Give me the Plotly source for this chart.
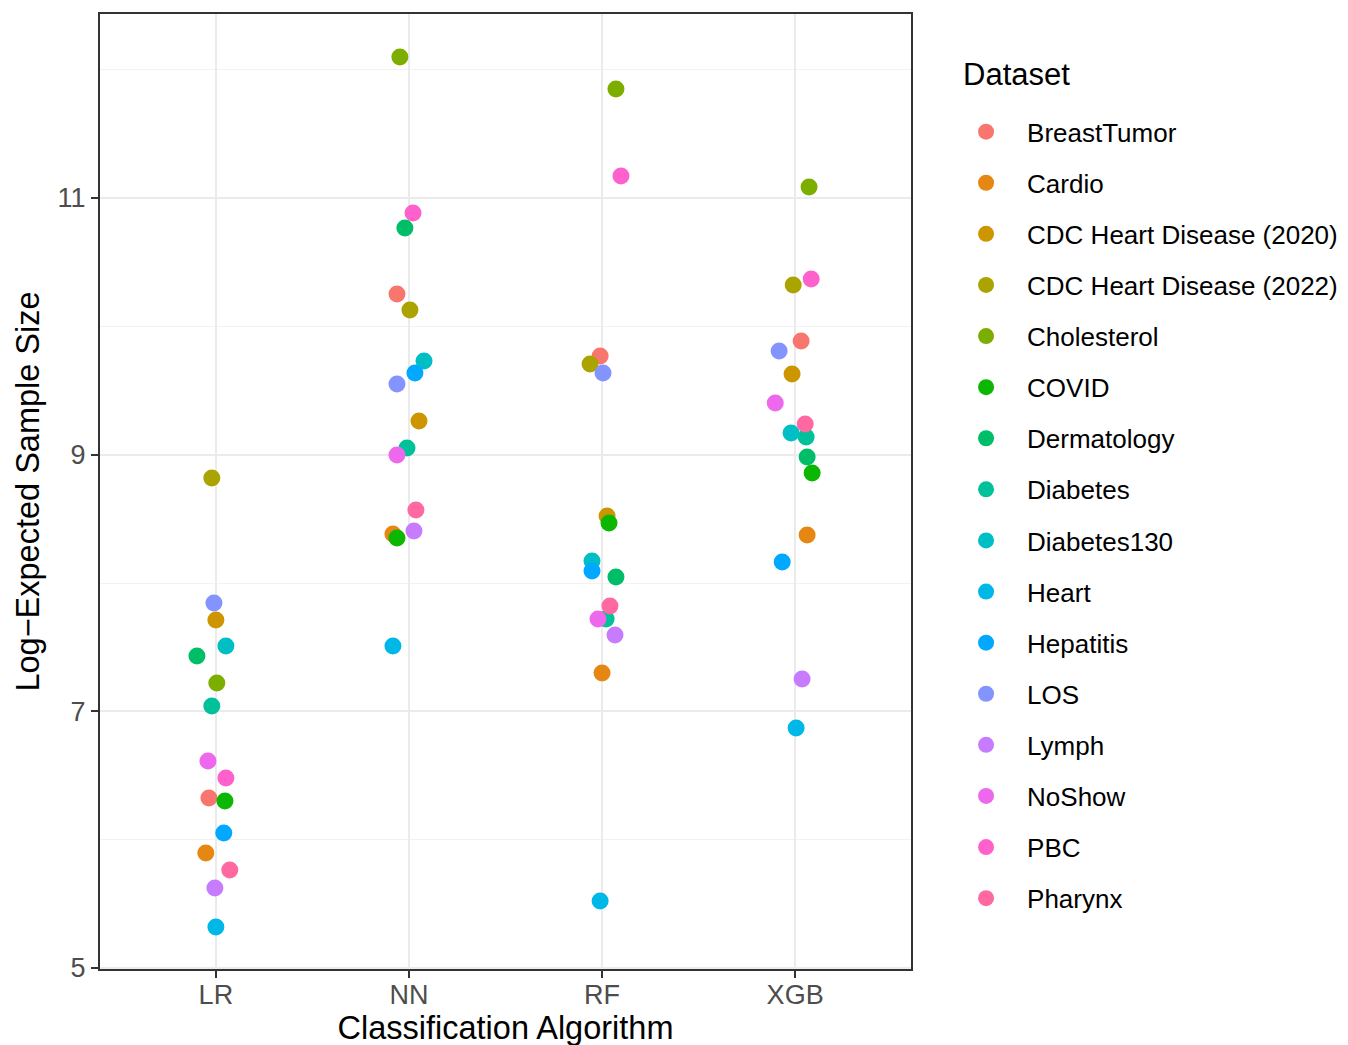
import plotly.graph_objects as go

datasets = ["BreastTumor", "Cardio", "CDC Heart Disease (2020)", "CDC Heart Disease (2022)",
            "Cholesterol", "COVID", "Dermatology", "Diabetes", "Diabetes130", "Heart",
            "Hepatitis", "LOS", "Lymph", "NoShow", "PBC", "Pharynx"]
colors = ["#F8766D", "#E68613", "#CD9600", "#ABA300", "#7CAE00", "#0CB702", "#00BE67", "#00C19A",
          "#00BFC4", "#00B8E7", "#00A9FF", "#8494FF", "#C77CFF", "#ED68ED", "#FF61CC", "#FF68A1"]
algorithms = ["LR", "NN", "RF", "XGB"]

# Log-expected sample size per dataset (same order as datasets)
lr_vals = [6.325, 5.896, 7.712, 8.818, 7.221, 6.301, 7.431, 7.042, 7.509, 5.319,
           6.052, 7.844, 5.623, 6.613, 6.481, 5.764]
nn_vals = [10.252, 8.382, 9.262, 10.127, 12.099, 8.351, 10.766, 9.052, 9.730, 7.509,
           9.636, 9.551, 8.405, 8.997, 10.883, 8.569]
rf_vals = [9.769, 7.299, 8.522, 9.707, 11.849, 8.468, 8.047, 7.720, 8.172, 5.522,
           8.094, 9.636, 7.595, 7.720, 11.172, 7.821]
xgb_vals = [9.886, 8.374, 9.629, 10.322, 11.086, 8.857, 8.982, 9.138, 9.169, 6.870,
            8.164, 9.808, 7.252, 9.403, 10.369, 9.239]

# horizontal jitter (category units) as drawn in the original
lr_jit = [-0.036, -0.052, 0.0, -0.021, 0.005, 0.047, -0.098, -0.021, 0.052, 0.0,
          0.041, -0.010, -0.005, -0.041, 0.052, 0.072]
nn_jit = [-0.062, -0.083, 0.052, 0.005, -0.047, -0.062, -0.021, -0.010, 0.078, -0.083,
          0.031, -0.062, 0.026, -0.062, 0.021, 0.036]
rf_jit = [-0.010, 0.0, 0.026, -0.062, 0.072, 0.036, 0.072, 0.021, -0.052, -0.010,
          -0.052, 0.005, 0.067, -0.021, 0.098, 0.041]
xgb_jit = [0.031, 0.062, -0.016, -0.010, 0.072, 0.088, 0.062, 0.057, -0.021, 0.005,
           -0.067, -0.083, 0.036, -0.103, 0.083, 0.052]

vals = [lr_vals, nn_vals, rf_vals, xgb_vals]
jits = [lr_jit, nn_jit, rf_jit, xgb_jit]

FONT = "Liberation Sans, Arial, sans-serif"

fig = go.Figure()
for i, name in enumerate(datasets):
    xs = [k + 1 + jits[k][i] for k in range(4)]
    ys = [vals[k][i] for k in range(4)]
    fig.add_trace(go.Scatter(
        x=xs, y=ys, mode="markers", name=name, legendgroup=name,
        marker=dict(color=colors[i], size=17, line=dict(width=0)),
    ))

fig.add_annotation(
    text="Dataset", xref="paper", yref="paper", x=1.0617, y=0.937,
    xanchor="left", yanchor="middle", showarrow=False,
    font=dict(size=31, color="black", family=FONT),
)

fig.update_layout(
    width=1348, height=1045,
    paper_bgcolor="white", plot_bgcolor="white",
    margin=dict(l=92, r=445, t=6, b=84),
    font=dict(family=FONT, color="black"),
    legend=dict(
        font=dict(size=26, color="black"),
        x=1.042, xanchor="left", y=0.9013, yanchor="top",
        tracegroupgap=14.3, itemsizing="trace", itemwidth=72,
        bgcolor="rgba(0,0,0,0)",
    ),
    xaxis=dict(
        range=[0.4, 4.6], tickvals=[1, 2, 3, 4], ticktext=algorithms,
        showgrid=True, gridcolor="#EBEBEB", gridwidth=2,
        zeroline=False, showline=True, mirror=True, linecolor="#333333", linewidth=2,
        ticks="outside", ticklen=7, tickwidth=2, tickcolor="#333333",
        tickfont=dict(size=27, color="#4D4D4D"), automargin=False, ticklabelstandoff=-6,
        title=dict(text="Classification Algorithm", font=dict(size=32.5, color="black"), standoff=7),
    ),
    yaxis=dict(
        range=[4.992, 12.434], tick0=5, dtick=2,
        showgrid=True, gridcolor="#EBEBEB", gridwidth=2,
        minor=dict(dtick=1, tick0=5, showgrid=True, gridcolor="#F2F2F2", gridwidth=1, ticks=""),
        zeroline=False, showline=True, mirror=True, linecolor="#333333", linewidth=2,
        ticks="outside", ticklen=7, tickwidth=2, tickcolor="#333333",
        tickfont=dict(size=27, color="#4D4D4D"), automargin=False,
        title=dict(text="Log\u2212Expected Sample Size", font=dict(size=32.5, color="black"), standoff=8),
    ),
)

fig.write_html("out.html")
